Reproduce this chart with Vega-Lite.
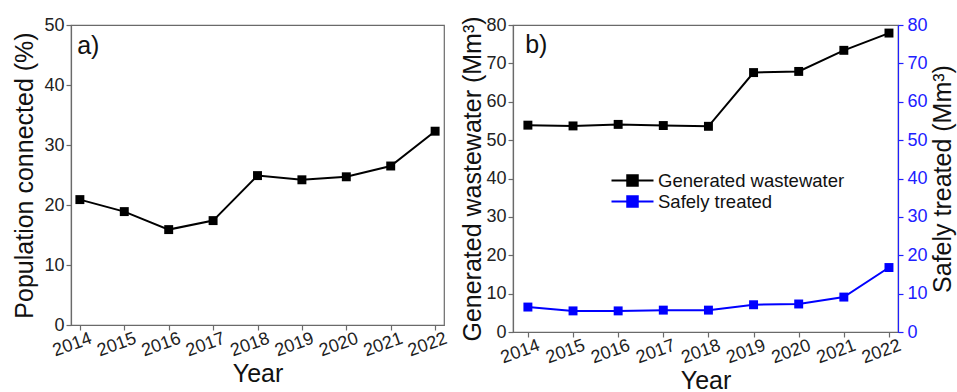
{
  "$schema": "https://vega.github.io/schema/vega-lite/v6.json",
  "padding": {"left": 12, "top": 15, "right": 2, "bottom": 0},
  "spacing": 10,
  "datasets": {
    "pop": [
      {"year": 2014, "pct": 20.9},
      {"year": 2015, "pct": 18.9},
      {"year": 2016, "pct": 15.9},
      {"year": 2017, "pct": 17.4},
      {"year": 2018, "pct": 24.9},
      {"year": 2019, "pct": 24.2},
      {"year": 2020, "pct": 24.7},
      {"year": 2021, "pct": 26.5},
      {"year": 2022, "pct": 32.3}
    ],
    "ww": [
      {"year": 2014, "series": "Generated wastewater", "value": 53.9},
      {"year": 2015, "series": "Generated wastewater", "value": 53.7},
      {"year": 2016, "series": "Generated wastewater", "value": 54.1},
      {"year": 2017, "series": "Generated wastewater", "value": 53.8},
      {"year": 2018, "series": "Generated wastewater", "value": 53.6},
      {"year": 2019, "series": "Generated wastewater", "value": 67.6},
      {"year": 2020, "series": "Generated wastewater", "value": 67.9},
      {"year": 2021, "series": "Generated wastewater", "value": 73.4},
      {"year": 2022, "series": "Generated wastewater", "value": 77.9},
      {"year": 2014, "series": "Safely treated", "value": 6.5},
      {"year": 2015, "series": "Safely treated", "value": 5.5},
      {"year": 2016, "series": "Safely treated", "value": 5.5},
      {"year": 2017, "series": "Safely treated", "value": 5.7},
      {"year": 2018, "series": "Safely treated", "value": 5.7},
      {"year": 2019, "series": "Safely treated", "value": 7.1},
      {"year": 2020, "series": "Safely treated", "value": 7.3},
      {"year": 2021, "series": "Safely treated", "value": 9.1},
      {"year": 2022, "series": "Safely treated", "value": 16.8}
    ]
  },
  "config": {
    "font": "Liberation Sans",
    "view": {"stroke": "#6a6a6a", "strokeWidth": 1.2},
    "axis": {
      "grid": false,
      "domainColor": "#6a6a6a",
      "domainWidth": 1.2,
      "tickColor": "#6a6a6a",
      "tickWidth": 1.2,
      "tickSize": 5,
      "labelColor": "#222222",
      "labelFontSize": 18,
      "labelFont": "Liberation Sans",
      "titleFont": "Liberation Sans",
      "titleFontSize": 25,
      "titleFontWeight": "normal",
      "titleColor": "#111111"
    }
  },
  "hconcat": [
    {
      "width": 373,
      "height": 300,
      "data": {"name": "pop"},
      "layer": [
        {
          "mark": {"type": "line", "color": "black", "strokeWidth": 2, "point": {"shape": "square", "filled": true, "size": 80, "color": "black"}},
          "encoding": {
            "x": {"field": "year", "type": "quantitative",
                  "scale": {"domain": [2013.8, 2022.2], "nice": false, "zero": false},
                  "axis": {"title": "Year", "values": [2014, 2015, 2016, 2017, 2018, 2019, 2020, 2021, 2022], "format": "d",
                           "labelAngle": -20, "labelAlign": "center", "labelBaseline": "top", "labelPadding": 6, "labelOffset": -11, "titlePadding": 2}},
            "y": {"field": "pct", "type": "quantitative",
                  "scale": {"domain": [0, 50], "nice": false},
                  "axis": {"title": "Population connected (%)", "values": [0, 10, 20, 30, 40, 50], "labelPadding": 2, "titlePadding": 6}}
          }
        },
        {
          "data": {"values": [{"label": "a)"}]},
          "mark": {"type": "text", "align": "left", "baseline": "middle", "fontSize": 25, "font": "Liberation Sans", "color": "#111111"},
          "encoding": {
            "text": {"field": "label"},
            "x": {"datum": 2013.94, "type": "quantitative"},
            "y": {"datum": 46.5, "type": "quantitative"}
          }
        }
      ]
    },
    {
      "width": 385,
      "height": 307,
      "data": {"name": "ww"},
      "layer": [
        {
          "transform": [{"filter": "datum.series === 'Generated wastewater'"}],
          "mark": {"type": "line", "strokeWidth": 2, "point": {"shape": "square", "filled": true, "size": 80}},
          "encoding": {
            "x": {"field": "year", "type": "quantitative",
                  "scale": {"domain": [2013.67, 2022.2], "nice": false, "zero": false},
                  "axis": {"title": "Year", "values": [2014, 2015, 2016, 2017, 2018, 2019, 2020, 2021, 2022], "format": "d",
                           "labelAngle": -20, "labelAlign": "center", "labelBaseline": "top", "labelPadding": 6, "labelOffset": -11, "titlePadding": 2}},
            "y": {"field": "value", "type": "quantitative",
                  "scale": {"domain": [0, 80], "nice": false},
                  "axis": {"title": "Generated wastewater (Mm³)", "values": [0, 10, 20, 30, 40, 50, 60, 70, 80], "labelPadding": 2, "titlePadding": 0}},
            "color": {"field": "series", "type": "nominal",
                      "scale": {"domain": ["Generated wastewater", "Safely treated"], "range": ["#000000", "#0000ff"]},
                      "legend": {
                        "title": null, "orient": "none", "legendX": 550, "legendY": 144,
                        "symbolType": "M-2,0H-0.5M0.5,0H2M-0.5,-0.5H0.5V0.5H-0.5Z",
                        "symbolSize": 441, "symbolStrokeWidth": 2,
                        "labelFontSize": 18.5, "labelFont": "Liberation Sans", "labelColor": "#111111", "labelOffset": 14, "labelLimit": 400, "rowPadding": -1,
                        "encode": {"symbols": {"update": {
                          "fill": {"signal": "datum.value === 'Safely treated' ? '#0000ff' : '#000000'"},
                          "stroke": {"signal": "datum.value === 'Safely treated' ? '#0000ff' : '#000000'"},
                          "fillOpacity": {"value": 1}
                        }}}
                      }}
          }
        },
        {
          "transform": [{"filter": "datum.series === 'Safely treated'"}],
          "mark": {"type": "line", "strokeWidth": 2, "point": {"shape": "square", "filled": true, "size": 80}},
          "encoding": {
            "x": {"field": "year", "type": "quantitative"},
            "y": {"field": "value", "type": "quantitative",
                  "scale": {"domain": [0, 80], "nice": false},
                  "axis": {"orient": "right", "title": "Safely treated (Mm³)", "titleAngle": 270, "titleBaseline": "top", "values": [0, 10, 20, 30, 40, 50, 60, 70, 80],
                           "domainColor": "#2020ff", "tickColor": "#2020ff", "labelColor": "#2020ff", "labelPadding": 4, "titlePadding": 3}},
            "color": {"field": "series", "type": "nominal"}
          }
        },
        {
          "data": {"values": [{"label": "b)"}]},
          "mark": {"type": "text", "align": "left", "baseline": "middle", "fontSize": 25, "font": "Liberation Sans", "color": "#111111"},
          "encoding": {
            "text": {"field": "label"},
            "x": {"datum": 2013.94, "type": "quantitative"},
            "y": {"datum": 74.7, "type": "quantitative", "scale": {"domain": [0, 80], "nice": false}, "axis": null}
          }
        }
      ],
      "resolve": {"scale": {"y": "independent"}}
    }
  ]
}
